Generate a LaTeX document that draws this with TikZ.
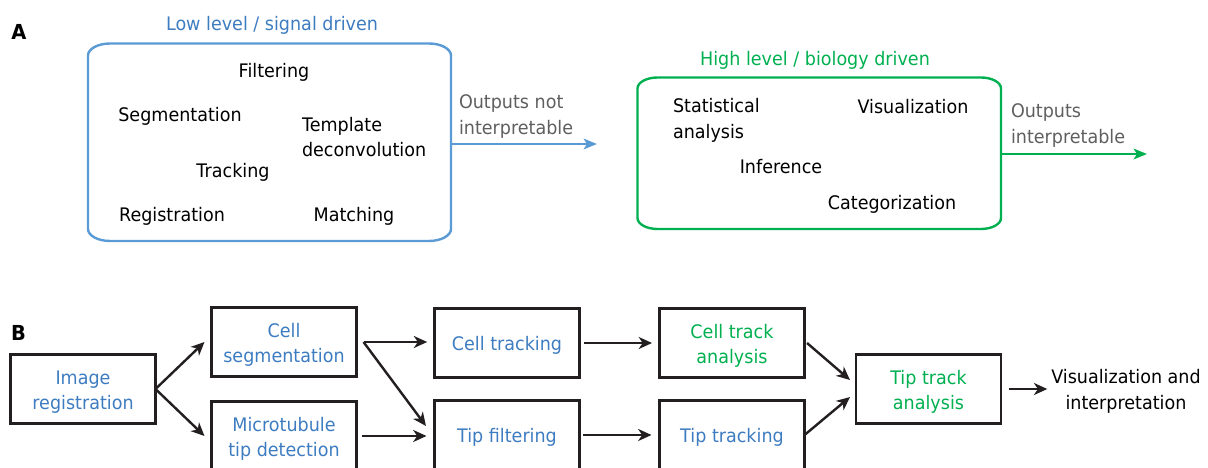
\documentclass[tikz,border=0pt]{standalone}
\usepackage{fontspec}
\setmainfont{DejaVu Sans}[FakeStretch=0.94]
\usetikzlibrary{arrows.meta}
\definecolor{tblue}{HTML}{3D7CC0}
\definecolor{lblue}{HTML}{5B9BD5}
\definecolor{tgreen}{HTML}{00B050}
\definecolor{tgray}{HTML}{5F5F5F}
\definecolor{tblack}{HTML}{231F20}
\newcommand\tgap{\rule{0pt}{14.5pt}}
\begin{document}
\begin{tikzpicture}[x=0.75pt,y=-0.75pt,
  txt/.style={font=\fontsize{14}{19}\selectfont, inner sep=0pt, outer sep=0pt, align=center},
  lbl/.style={txt, align=left, anchor=west},
  panel/.style={font=\fontsize{15.5}{17}\selectfont\bfseries, inner sep=0pt},
  stagebox/.style={txt, draw=tblack, line width=2.1pt, minimum width=108.75pt, minimum height=52pt, text=tblue},
  arr/.style={draw=tblack, line width=1.8pt, -{Stealth[length=10pt,width=9pt,inset=3pt]}},
  carr/.style={line width=1.7pt, -{Stealth[length=10pt,width=8pt,inset=2.5pt]}},
  lowshape/.style={draw=lblue, line width=1.8pt},
  highshape/.style={draw=tgreen, line width=1.8pt}
]
\useasboundingbox (0,0) rectangle (1208,468);

% ---------- Panel A ----------
\node[panel] (la) at (19,32) {A};

\draw[lowshape] (88,229) -- (88,55.5) .. controls (88,48.9) and (97.9,43.5) .. (110,43.5)
  -- (429,43.5) .. controls (441.1,43.5) and (451,48.9) .. (451,55.5)
  -- (451,229) .. controls (451,235.6) and (441.1,241) .. (429,241)
  -- (110,241) .. controls (97.9,241) and (88,235.6) .. (88,229) -- cycle;

\node[txt, text=tblue] (lowtitle) at (272,25.5) {Low level / signal driven};
\node[txt] (filt) at (274,72) {Filtering};
\node[txt] (seg) at (180,116) {Segmentation};
\node[lbl] (templ) at (302,137) {Template\\deconvolution};
\node[txt] (trk) at (233,172) {Tracking};
\node[txt] (reg) at (172,216) {Registration};
\node[txt] (match) at (354,216) {Matching};

\coordinate (lowout) at (451,144);
\coordinate (lowend) at (597,144);
\draw[carr, draw=lblue, fill=lblue] (lowout) -- (lowend);
\node[lbl, text=tgray] (outnot) at (459,116.5) {Outputs not\\interpretable};

\draw[highshape] (637.5,218) -- (637.5,88.5) .. controls (637.5,82.4) and (646.5,77.5) .. (657.5,77.5)
  -- (981,77.5) .. controls (992,77.5) and (1001,82.4) .. (1001,88.5)
  -- (1001,218) .. controls (1001,224.1) and (992,229) .. (981,229)
  -- (657.5,229) .. controls (646.5,229) and (637.5,224.1) .. (637.5,218) -- cycle;

\node[txt, text=tgreen] (hightitle) at (815,60.5) {High level / biology driven};
\node[lbl] (stat) at (673,120.5) {Statistical\\analysis};
\node[txt] (vis) at (913,107) {Visualization};
\node[txt] (inf) at (781,167) {Inference};
\node[txt] (cat) at (892,204) {Categorization};

\coordinate (highout) at (1001,154);
\coordinate (highend) at (1147,154);
\draw[carr, draw=tgreen, fill=tgreen] (highout) -- (highend);
\node[lbl, text=tgray] (outint) at (1011,125.5) {Outputs\\interpretable};

% ---------- Panel B ----------
\node[panel] (lb) at (18.5,333) {B};

\node[stagebox] (imreg) at (83,389) {\tgap Image\\registration};
\node[stagebox] (cellseg) at (284,342) {\tgap Cell\\segmentation};
\node[stagebox] (mtdet) at (284,436) {\tgap Microtubule\\tip detection};
\node[stagebox] (celltrk) at (507,343) {\tgap Cell tracking};
\node[stagebox] (tipfilt) at (507,435) {\tgap Tip filtering};
\node[stagebox, text=tgreen] (ctana) at (732,343) {\tgap Cell track\\analysis};
\node[stagebox] (tiptrk) at (732,435) {\tgap Tip tracking};
\node[stagebox, text=tgreen] (ttana) at (928.5,389) {\tgap Tip track\\analysis};
\node[txt] (final) at (1126,391.5) {Visualization and\\interpretation};

\draw[arr] (imreg.east) -- ([xshift=-5.25pt]cellseg.west);
\draw[arr] (imreg.east) -- ([xshift=-5.25pt]mtdet.west);

\coordinate (split) at ([xshift=5.25pt]cellseg.east);
\draw[arr, shorten >=5.5pt] (split) -- (split -| celltrk.west);
\draw[arr] (split) -- ([xshift=-6.4pt,yshift=6.75pt]tipfilt.west);
\draw[arr, shorten <=3.75pt, shorten >=6pt] (mtdet.east) -- (mtdet.east -| tipfilt.west);

\draw[arr, shorten <=3.4pt, shorten >=5.6pt] (celltrk.east) -- (ctana.west);
\draw[arr, shorten <=2.6pt, shorten >=6pt] (tipfilt.east) -- (tiptrk.west);

\draw[arr] ([xshift=1.9pt]ctana.east) -- ([xshift=-4.5pt,yshift=6.75pt]ttana.west);
\draw[arr] (tiptrk.east) -- ([xshift=-4.5pt,yshift=-6pt]ttana.west);

\draw[arr, shorten <=6pt, shorten >=3pt] (ttana.east) -- (ttana.east -| final.west);
\end{tikzpicture}
\end{document}
